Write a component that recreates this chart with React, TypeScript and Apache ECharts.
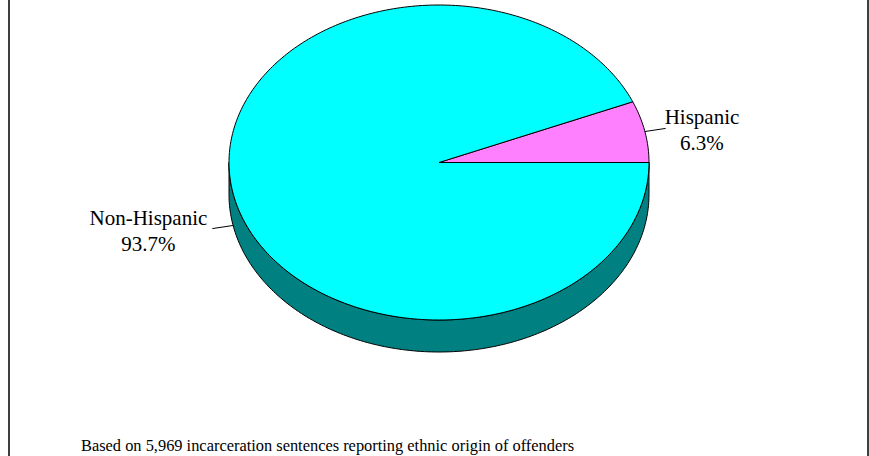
import React, { useEffect, useRef } from "react";
import * as echarts from "echarts";

const categories = ["Hispanic", "Non-Hispanic"];
const percentValues = [6.3, 93.7];
const footnote = "Based on 5,969 incarceration sentences reporting ethnic origin of offenders";

const topColors = ["#FF80FF", "#00FFFF"];
const sideColors = ["#800080", "#008080"];

const FONT = "'Liberation Serif', 'Times New Roman', serif";

function measure(text: string, size: number): number {
  const c = document.createElement("canvas");
  const ctx = c.getContext("2d");
  if (!ctx) return text.length * size * 0.45;
  ctx.font = `${size}px ${FONT}`;
  return ctx.measureText(text).width;
}

export default function App() {
  const ref = useRef<HTMLDivElement>(null);
  useEffect(() => {
    if (!ref.current) return;
    const chart = echarts.init(ref.current, undefined, { renderer: "svg" });
    const total = percentValues.reduce((a, b) => a + b, 0);
    const cx = 439;
    const cy = 162.5;
    const rx = 210;
    const ry = 157.5;
    const depth = 32;
    const labelSize = 21;
    const lineH = 26;

    const pt = (deg: number, dy = 0) => {
      const r = (deg * Math.PI) / 180;
      return [cx + rx * Math.cos(r), cy - ry * Math.sin(r) + dy];
    };

    const renderItem = (params: any, api: any) => {
      const i = params.dataIndex;
      const v = api.value(0);
      let before = 0;
      for (let k = 0; k < i; k++) before += percentValues[k];
      const a0 = (before / total) * 360;
      const a1 = ((before + v) / total) * 360;
      const children: any[] = [];

      // side (visible part: 180..360)
      const s0 = Math.max(a0, 180);
      const s1 = Math.min(a1, 360);
      if (s1 > s0) {
        const upper: number[][] = [];
        const lower: number[][] = [];
        const n = Math.max(2, Math.ceil(s1 - s0));
        for (let j = 0; j <= n; j++) {
          const d = s0 + ((s1 - s0) * j) / n;
          upper.push(pt(d));
          lower.push(pt(d, depth));
        }
        children.push({
          type: "polygon",
          shape: { points: upper.concat(lower.reverse()) },
          style: { fill: sideColors[i], stroke: "#000", lineWidth: 1 },
        });
      }

      // top
      const top: number[][] = [[cx, cy]];
      const n = Math.max(2, Math.ceil(a1 - a0));
      for (let j = 0; j <= n; j++) top.push(pt(a0 + ((a1 - a0) * j) / n));
      children.push({
        type: "polygon",
        shape: { points: top },
        style: { fill: topColors[i], stroke: "#000", lineWidth: 1 },
      });

      // label + leader
      const mid = (a0 + a1) / 2;
      const midR = (mid * Math.PI) / 180;
      const lowerHalf = Math.sin(midR) < 0;
      const anchor = pt(mid, lowerHalf ? depth : 0);
      const dxr = rx * Math.cos(midR);
      const dyr = -ry * Math.sin(midR);
      const len = Math.sqrt(dxr * dxr + dyr * dyr);
      const L = 21;
      const end = [anchor[0] + (dxr / len) * L, anchor[1] + (dyr / len) * L];
      children.push({
        type: "line",
        shape: { x1: anchor[0], y1: anchor[1], x2: end[0], y2: end[1] },
        style: { stroke: "#000", lineWidth: 1 },
      });
      const line1 = categories[i];
      const line2 = ((v / total) * 100).toFixed(1) + "%";
      const w = Math.max(measure(line1, labelSize), measure(line2, labelSize));
      const right = Math.cos(midR) >= 0;
      const tx = right ? end[0] - 1 + w / 2 : end[0] - 5 - w / 2;
      children.push({
        type: "text",
        x: tx,
        y: end[1] + 2,
        style: {
          text: line1 + "\n" + line2,
          fontSize: labelSize,
          fontFamily: FONT,
          lineHeight: lineH,
          fill: "#000",
          align: "center",
          verticalAlign: "middle",
          textAlign: "center",
          textVerticalAlign: "middle",
        },
      });
      return { type: "group", children };
    };

    chart.setOption({
      animation: false,
      backgroundColor: "#fff",
      graphic: [
        {
          type: "rect",
          shape: { x: 9, y: -10, width: 859, height: 480 },
          style: { fill: "none", stroke: "#000", lineWidth: 1.5 },
          silent: true,
        },
        {
          type: "text",
          left: 81,
          top: 437,
          style: { text: footnote, fontSize: 16.4, fontFamily: FONT, fill: "#000" },
        },
      ],
      series: [
        {
          type: "custom",
          coordinateSystem: "none",
          renderItem,
          data: percentValues.map((v, i) => ({ name: categories[i], value: [v, i] })),
        },
      ],
    });
    return () => chart.dispose();
  }, []);
  return (
    <div
      ref={ref}
      style={{ position: "absolute", left: 0, top: 0, width: 869, height: 456 }}
    />
  );
}
